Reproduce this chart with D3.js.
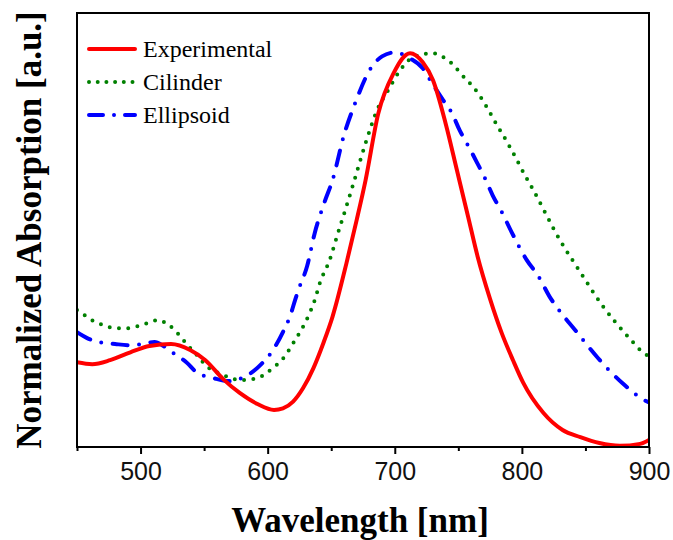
<!DOCTYPE html>
<html>
<head>
<meta charset="utf-8">
<script src="https://cdn.jsdelivr.net/npm/d3@7"></script>
<style>
  html, body { margin: 0; padding: 0; background: #fff; }
  svg { display: block; }
</style>
</head>
<body>
<svg id="chart" width="673" height="540"></svg>
<script>
// ---- data (wavelength nm, normalized absorption) ----
const expWl  = [450,462,476,492,507,524,539,551,565,578,592,605,612,620,628,636,644,651,662,670,677,687,699,712,722,730,740,749,757.6,765,775,784,793,801,817,832,846,861,877,893,900];
const expAbs = [0.215,0.210,0.220,0.240,0.256,0.261,0.246,0.220,0.172,0.137,0.109,0.094,0.098,0.115,0.150,0.200,0.265,0.330,0.466,0.575,0.676,0.845,0.947,0.998,0.975,0.93,0.82,0.70,0.585,0.485,0.375,0.29,0.22,0.163,0.086,0.043,0.025,0.010,0.003,0.008,0.018];

const cylWl  = [450,456,463,469,475,482,489,495,501,507,514,520,526,532,537,543,549,555,562,569,574,581,588,594,600,607,613,621,625,632,637,641,649,655,661,667,677,686,696,704,714,729,742,754,765,773,780,788,795,802,809,830,846,863,884,896,900];
const cylAbs = [0.347,0.334,0.319,0.311,0.304,0.301,0.301,0.304,0.309,0.316,0.322,0.314,0.299,0.278,0.258,0.238,0.215,0.197,0.187,0.177,0.172,0.170,0.172,0.177,0.19,0.208,0.228,0.268,0.289,0.332,0.372,0.415,0.476,0.539,0.6,0.663,0.77,0.853,0.911,0.954,0.987,0.998,0.98,0.939,0.899,0.858,0.818,0.775,0.734,0.691,0.651,0.524,0.443,0.36,0.278,0.238,0.23];

const ellWl  = [450,458,467,480,492,503,511,518,527,536,545,557,569,583,595,604,612,618,622,625,631,637,645,651,660,669,680,690,700,712,722,729,737,745,751,758,765,771,777,784,792,804,813,822,828,842,860,879,898,900];
const ellAbs = [0.291,0.276,0.266,0.261,0.258,0.262,0.266,0.256,0.235,0.215,0.187,0.175,0.167,0.18,0.21,0.245,0.291,0.335,0.377,0.405,0.458,0.542,0.623,0.676,0.79,0.873,0.954,0.99,1.0,0.985,0.96,0.924,0.884,0.846,0.803,0.762,0.719,0.681,0.638,0.597,0.544,0.473,0.433,0.38,0.352,0.296,0.225,0.162,0.116,0.113];

const seriesNames = ["Experimental", "Cilinder", "Ellipsoid"];
const majorTicks = [500, 600, 700, 800, 900];
const minorTicks = [450, 550, 650, 750, 850];
const xTitle = "Wavelength [nm]";
const yTitle = "Normalized Absorption [a.u.]";

// ---- layout ----
const L = 77, R = 649, T = 13, B = 447;
const svg = d3.select("#chart");
const x = d3.scaleLinear().domain([450, 900]).range([L, R]);
const y = d3.scaleLinear().domain([0, 1.1]).range([B, T]);

const styles = [
  { color: "#ff0000", width: 4, dash: null, cap: "round" },
  { color: "#008000", width: 4, dash: "0 9.3", cap: "round" },
  { color: "#0000ff", width: 4, dash: "15 11.5 0 11.5", cap: "round" }
];
const series = [
  d3.zip(expWl, expAbs),
  d3.zip(cylWl, cylAbs),
  d3.zip(ellWl, ellAbs)
];

svg.append("defs").append("clipPath").attr("id", "clip")
  .append("rect").attr("x", L).attr("y", T).attr("width", R - L).attr("height", B - T);

const line = d3.line().x(d => x(d[0])).y(d => y(d[1])).curve(d3.curveMonotoneX);

const g = svg.append("g").attr("clip-path", "url(#clip)");
[1, 2, 0].forEach(i => {
  const s = styles[i];
  g.append("path")
    .datum(series[i])
    .attr("d", line)
    .attr("fill", "none")
    .attr("stroke", s.color)
    .attr("stroke-width", s.width)
    .attr("stroke-linecap", s.cap)
    .attr("stroke-linejoin", "round")
    .attr("stroke-dasharray", s.dash);
});

// ---- axes ----
const axMajor = d3.axisBottom(x).tickValues(majorTicks).tickSize(7).tickPadding(8).tickFormat(d3.format("d"));
const axMinor = d3.axisBottom(x).tickValues(minorTicks).tickSize(4).tickFormat("");
const gMaj = svg.append("g").attr("transform", `translate(0,${B})`).call(axMajor);
const gMin = svg.append("g").attr("transform", `translate(0,${B})`).call(axMinor);
[gMaj, gMin].forEach(ga => {
  ga.select(".domain").remove();
  ga.selectAll(".tick line").attr("stroke", "#000").attr("stroke-width", 2);
});
gMaj.selectAll(".tick text")
  .attr("font-family", "'Liberation Sans', Arial, sans-serif")
  .attr("font-size", 25)
  .attr("fill", "#111");

// frame
svg.append("rect")
  .attr("x", L).attr("y", T).attr("width", R - L).attr("height", B - T)
  .attr("fill", "none").attr("stroke", "#000").attr("stroke-width", 2);

// ---- titles ----
svg.append("text")
  .attr("x", (L + R) / 2 - 3).attr("y", 532)
  .attr("text-anchor", "middle")
  .attr("font-family", "'Liberation Serif', 'Times New Roman', serif")
  .attr("font-weight", "bold").attr("font-size", 35)
  .text(xTitle);

svg.append("text")
  .attr("transform", `translate(41,${(T + B) / 2}) rotate(-90)`)
  .attr("text-anchor", "middle")
  .attr("font-family", "'Liberation Serif', 'Times New Roman', serif")
  .attr("font-weight", "bold").attr("font-size", 35)
  .text(yTitle);

// ---- legend ----
const leg = svg.append("g");
seriesNames.forEach((name, i) => {
  const yy = 49 + i * 33;
  const s = styles[i];
  leg.append("line")
    .attr("x1", 89).attr("x2", 135).attr("y1", yy).attr("y2", yy)
    .attr("stroke", s.color).attr("stroke-width", s.width)
    .attr("stroke-linecap", s.cap)
    .attr("stroke-dasharray", i === 1 ? "0 8.7" : (i === 2 ? "14 11 0 11" : null));
  leg.append("text")
    .attr("x", 143).attr("y", yy + 8)
    .attr("font-family", "'Liberation Serif', 'Times New Roman', serif")
    .attr("font-size", 24)
    .text(name);
});
</script>
</body>
</html>
